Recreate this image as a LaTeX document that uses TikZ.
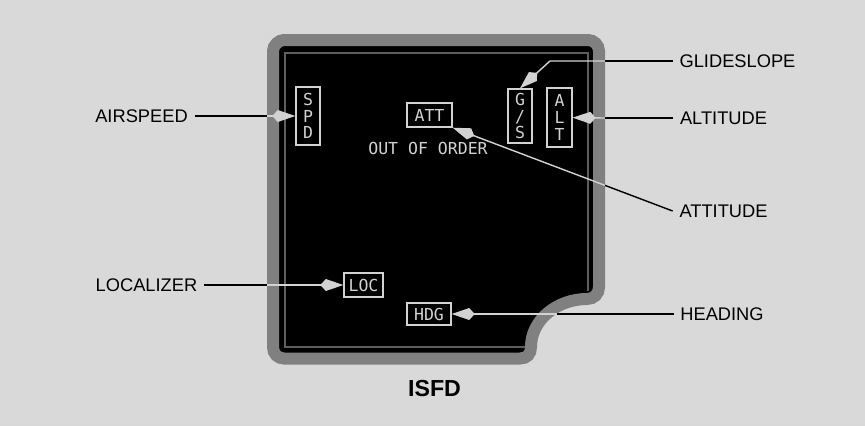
\documentclass[tikz,border=0pt]{standalone}
\usepackage{fontspec}
\setmainfont{Liberation Sans}
\newfontfamily\scrfont{DejaVu Sans Mono}
\usepackage{tikz}
\usetikzlibrary{arrows.meta, calc}
\definecolor{bggray}{HTML}{D9D9D9}
\definecolor{bezelgray}{HTML}{808080}
\definecolor{scrtext}{HTML}{D2D2D2}
\definecolor{scrline}{HTML}{5E5E5E}
\tikzset{
	callout/.style={
			font=\fontsize{10.4}{12}\selectfont,
			text=black,
			inner sep=1.3mm
		},
	tagbox/.style={
			draw=scrtext,
			line width=0.8pt,
			text=scrtext,
			font=\scrfont\fontsize{9.4}{9.5}\selectfont,
			align=center,
			inner sep=0pt
		},
	leadout/.style={
			line width=0.8pt,
			draw=black
		},
	leadin/.style={
			line width=0.8pt,
			draw=scrtext,
			-{Kite[length=4.6mm, width=2.4mm, inset=1.1mm]}
		}
}

\begin{document}
\begin{tikzpicture}[x=0.2mm, y=-0.2mm]
\useasboundingbox (0,0) rectangle (865,426);
\fill[bggray] (0,0) rectangle (865,426);

% unit body with notch
\path[fill=black, draw=bezelgray, line width=2.4mm]
  (273,51) .. controls (273,45) and (279,40) .. (284,40)
  -- (588,40) .. controls (594,40) and (599,45) .. (599,51)
  -- (599,287) .. controls (599,294) and (594,299) .. (587,299)
  .. controls (557,299) and (531,320) .. (531,347)
  .. controls (531,354) and (527,358.5) .. (520,358.5)
  -- (284,358.5) .. controls (278,358.5) and (273,354) .. (273,347)
  -- cycle;
\draw[scrline, line width=0.3mm] (525,347) -| (285,53) -| (588,291);

% screen tags
\node[tagbox, minimum width=4.8mm, minimum height=11.6mm] (spd) at (308,116) {S\\P\\D};
\node[tagbox, minimum width=9mm, minimum height=4.8mm] (att) at (429.5,115) {ATT};
\node[text=scrtext, font=\scrfont\fontsize{9.4}{11}\selectfont, inner sep=0pt] (ooo) at (428,148) {OUT OF ORDER};
\node[tagbox, minimum width=4.8mm, minimum height=10.8mm] (gs) at (520,116) {G\\/\\S};
\node[tagbox, minimum width=5mm, minimum height=11.8mm] (alt) at (559.5,117.5) {A\\L\\T};
\node[tagbox, minimum width=7.8mm, minimum height=4.8mm] (loc) at (363.5,285) {LOC};
\node[tagbox, minimum width=8.8mm, minimum height=4.4mm] (hdg) at (429,314) {HDG};

% callouts
\node[callout] (airspeed) at (141.5,116) {AIRSPEED};
\node[callout] (localizer) at (146.5,285) {LOCALIZER};
\node[callout] (glideslope) at (737.5,61) {GLIDESLOPE};
\node[callout] (altitude) at (723.5,118) {ALTITUDE};
\node[callout] (attitude) at (723.5,211) {ATTITUDE};
\node[callout] (heading) at (722,314) {HEADING};
\node[font=\bfseries\fontsize{13.2}{15}\selectfont] (isfd) at (434.5,389) {ISFD};

% where leaders cross the bezel
\coordinate (spdedge) at (267,116);
\coordinate (locedge) at (267,285);
\coordinate (gsedge) at (605,61);
\coordinate (gsbend) at (550,61);
\coordinate (altedge) at (605,118);
\coordinate (hdgedge) at (557,314);
\coordinate (attedge) at ($(att.south east)!0.692!(attitude.west)$);

\draw[leadout] (airspeed) -- (spdedge);
\draw[leadin] (spdedge) -- (spd);
\draw[leadout] (localizer) -- (locedge);
\draw[leadin] (locedge) -- (loc);
\draw[leadout] (glideslope) -- (gsedge);
\draw[leadin] (gsedge) -- (gsbend) -- (gs.north);
\draw[leadout] (altitude) -- (altedge);
\draw[leadin] (altedge) -- (alt);
\draw[leadout] (attitude.west) -- (attedge);
\draw[leadin] (attedge) -- (att.south east);
\draw[leadout] (heading) -- (hdgedge);
\draw[leadin] (hdgedge) -- (hdg);
\end{tikzpicture}
\end{document}
